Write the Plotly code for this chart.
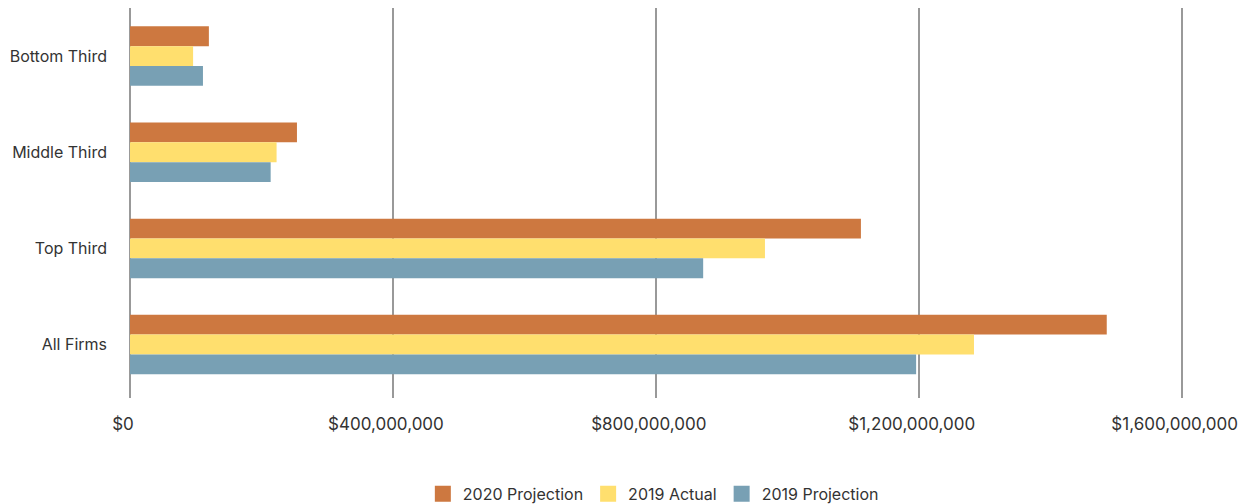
import plotly.graph_objects as go

categories = ["Bottom Third", "Middle Third", "Top Third", "All Firms"]
proj_2020 = [120e6, 254e6, 1112e6, 1486e6]
actual_2019 = [96e6, 223e6, 966e6, 1284e6]
proj_2019 = [111e6, 214e6, 872e6, 1196e6]

tick_vals = [0, 400e6, 800e6, 1200e6, 1600e6]
tick_text = ["$0", "$400,000,000", "$800,000,000", "$1,200,000,000", "$1,600,000,000"]

series = [
    ("2020 Projection", proj_2020, "#CD7840"),
    ("2019 Actual", actual_2019, "#FFDF6E"),
    ("2019 Projection", proj_2019, "#78A0B4"),
]

fig = go.Figure()
for name, vals, color in series:
    fig.add_trace(go.Bar(y=categories, x=vals, name=name, orientation="h",
                         marker=dict(color=color, line=dict(width=0)),
                         hoverinfo="skip", showlegend=False))
# legend entries with larger square swatches
for name, vals, color in series:
    fig.add_trace(go.Scatter(x=[None], y=[None], mode="markers", name=name,
                             marker=dict(symbol="square", size=16, color=color),
                             hoverinfo="skip", showlegend=True))

font_family = "Inter, Roboto, sans-serif"
fig.update_layout(
    width=1243, height=496,
    margin=dict(l=122, r=68, t=0, b=106, autoexpand=False),
    barmode="group", bargap=0.381, bargroupgap=0,
    plot_bgcolor="white", paper_bgcolor="white",
    font=dict(family=font_family, size=16, color="#333333"),
    showlegend=True,
    legend=dict(orientation="h", x=0.497, xanchor="center", y=-0.246, yanchor="middle",
                font=dict(size=16, color="#333333"), itemwidth=30,
                traceorder="normal"),
    xaxis=dict(range=[0, 1602e6], tickvals=tick_vals, ticktext=tick_text,
               automargin=False,
               showgrid=True, gridcolor="#999999", gridwidth=1.5,
               zeroline=True, zerolinecolor="#999999", zerolinewidth=1.5,
               showline=False, ticks="", ticklabelstandoff=14, ticklabelshift=-7,
               tickfont=dict(size=17, color="#333333")),
    yaxis=dict(range=[3.556, -0.5], automargin=False, showgrid=False, zeroline=False,
               showline=False, ticks="", ticklabelstandoff=22,
               tickfont=dict(size=16, color="#333333")),
)

fig.write_html("out.html")
